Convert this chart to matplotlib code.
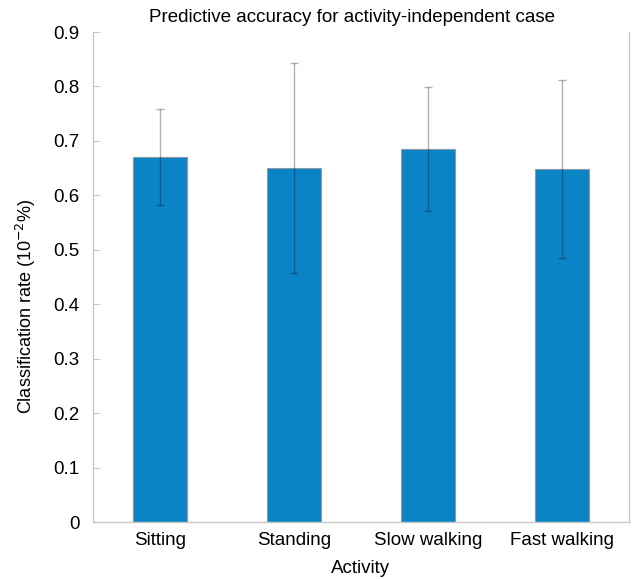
import matplotlib
matplotlib.use("Agg")
import matplotlib.pyplot as plt

plt.rcParams['font.family'] = ['Liberation Sans', 'DejaVu Sans']

activities = ["Sitting", "Standing", "Slow walking", "Fast walking"]
rates = [0.670, 0.650, 0.685, 0.648]
errors = [0.088, 0.193, 0.114, 0.163]
yticks = [0, 0.1, 0.2, 0.3, 0.4, 0.5, 0.6, 0.7, 0.8, 0.9]

fig = plt.figure(figsize=(6.41, 5.79), dpi=100)
ax = fig.add_axes([0.145, 0.0984, 0.836, 0.8463])

x = list(range(1, len(activities) + 1))
ax.bar(x, rates, width=0.4, color="#0b84c6", edgecolor="#8a9aa8", linewidth=0.8, zorder=2)
ax.errorbar(x, rates, yerr=errors, fmt="none", ecolor=(0, 0, 0, 0.3),
            elinewidth=1, capsize=3, capthick=1, zorder=3)

ax.set_xlim(0.5, 4.5)
ax.set_ylim(0, 0.9)
ax.set_yticks(yticks)
ax.set_yticklabels(["0"] + [f"{v:.1f}" for v in yticks[1:]])
ax.set_xticks(x)
ax.set_xticklabels(activities)

ax.tick_params(axis="y", direction="in", length=5, color="#c8c8c8", labelsize=13.5, pad=9.5)
ax.tick_params(axis="x", length=0, labelsize=13.5, pad=7)

for side in ["left", "bottom", "right"]:
    ax.spines[side].set_color("#c8c8c8")
    ax.spines[side].set_linewidth(1)
ax.spines["top"].set_visible(False)

ax.set_title("Predictive accuracy for activity-independent case", fontsize=13.5, pad=7, x=0.483)
ax.set_xlabel("Activity", fontsize=13.5, labelpad=8)
ax.set_ylabel("Classification rate (10$^{-2}$%)", fontsize=13, labelpad=8)
ax.yaxis.set_label_coords(-0.103, 0.44)

fig.savefig("out.png", dpi=100)
